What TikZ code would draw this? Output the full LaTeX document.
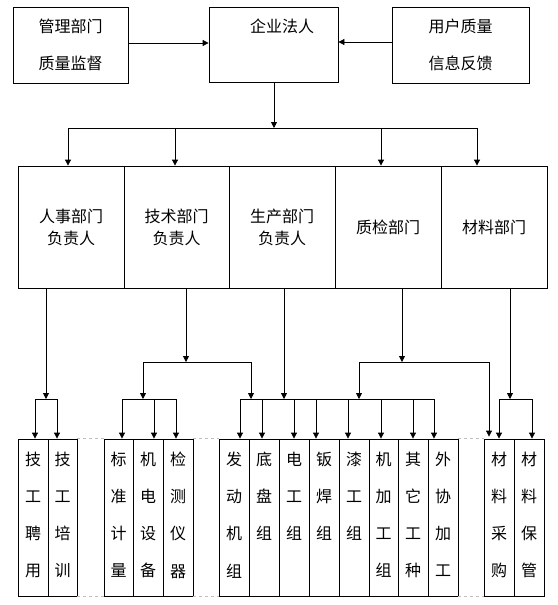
\documentclass[tikz,border=0pt]{standalone}
\usepackage{fontspec}
\newfontfamily\cjk{Noto Sans CJK SC}
\usetikzlibrary{arrows.meta}
\tikzset{
  box/.style={draw, line width=0.8pt, inner sep=0pt},
  topbox/.style={box, minimum height=76pt, align=center, font=\cjk\fontsize{16pt}{37pt}\selectfont},
  midbox/.style={box, minimum width=106pt, minimum height=122pt, align=center, font=\cjk\fontsize{16pt}{22pt}\selectfont},
  bbox/.style={box, minimum height=157pt},
  btext/.style={anchor=north, inner sep=0pt, align=center, font=\cjk\fontsize{16pt}{37.3pt}\selectfont},
  ln/.style={line width=0.8pt},
  arr/.style={line width=0.8pt, -{Triangle[length=6pt,width=6pt]}},
  dsh/.style={draw=black!25, dashed, line width=0.6pt}
}
\newcommand\bcol[4]{%
  \node[bbox, minimum width=#3pt] (#1) at (#2,517.5) {};
  \node[btext] (#1t) at ([yshift=-12.8pt]#1.north) {#4};
}
\begin{document}
\begin{tikzpicture}[x=1pt,y=-1pt]
\useasboundingbox (0,0) rectangle (557,605);
% top row
\node[topbox, minimum width=115pt] (L) at (70.5,45) {管理部门\\质量监督};
\node[box, minimum width=129pt, minimum height=75pt] (C) at (273.5,44.5) {};
\node[inner sep=0pt, font=\cjk\fontsize{16pt}{20pt}\selectfont] (Ct) at (282,26) {企业法人};
\node[topbox, minimum width=137pt] (R) at (460.5,45) {用户质量\\信息反馈};
\coordinate (yL) at (0,43);
\coordinate (yR) at (0,42);
\draw[arr] (L.east |- yL) -- (C.west |- yL);
\draw[arr] (R.west |- yR) -- (C.east |- yR);
% middle row
\node[midbox] (M1) at (71,227) {人事部门\\负责人};
\node[midbox, minimum width=105pt] (M2) at (176.5,227) {技术部门\\负责人};
\node[midbox] (M3) at (282,227) {生产部门\\负责人};
\node[midbox] (M4) at (388,227) {质检部门};
\node[midbox] (M5) at (494,227) {材料部门};
% bus from C
\coordinate (j0) at (274,128);
\coordinate (h0a) at (68,128);
\coordinate (h0b) at (477,128);
\coordinate (h0c) at (175,128);
\coordinate (h0d) at (381,128);
\draw[arr] (C.south -| j0) -- (j0);
\draw[ln] (h0a) -- (h0b);
\draw[arr] (h0a) -- (h0a |- M1.north);
\draw[arr] (h0c) -- (h0c |- M2.north);
\draw[arr] (h0d) -- (h0d |- M4.north);
\draw[arr] (h0b) -- (h0b |- M5.north);
% bottom boxes
\bcol{b1}{33}{30}{技\\工\\聘\\用}
\bcol{b2}{62.5}{29}{技\\工\\培\\训}
\bcol{b3}{118.5}{29}{标\\准\\计\\量}
\bcol{b4}{148}{30}{机\\电\\设\\备}
\bcol{b5}{178}{30}{检\\测\\仪\\器}
\bcol{b6}{234}{30}{发\\动\\机\\组}
\bcol{b7}{264}{30}{底\\盘\\组}
\bcol{b8}{294}{30}{电\\工\\组}
\bcol{b9}{324}{30}{钣\\焊\\组}
\bcol{b10}{354}{30}{漆\\工\\组}
\bcol{b11}{383.5}{29}{机\\加\\工\\组}
\bcol{b12}{413}{30}{其\\它\\工\\种}
\bcol{b13}{443}{30}{外\\协\\加\\工}
\bcol{b14}{499}{30}{材\\料\\采\\购}
\bcol{b15}{529}{30}{材\\料\\保\\管}
% dashed group links
\draw[dsh] (b2.north east) -- (b3.north west);
\draw[dsh] (b2.south east) -- (b3.south west);
\draw[dsh] (b5.north east) -- (b6.north west);
\draw[dsh] (b5.south east) -- (b6.south west);
\draw[dsh] (b13.north east) -- (b14.north west);
\draw[dsh] (b13.south east) -- (b14.south west);
% M1 branch
\coordinate (p1) at (46,399);
\coordinate (p1a) at (35,399);
\coordinate (p1b) at (57,399);
\draw[arr] (M1.south -| p1) -- (p1);
\draw[ln] (p1a) -- (p1b);
\draw[arr] (p1a) -- (p1a |- b1.north);
\draw[arr] (p1b) -- (p1b |- b2.north);
% M2 branch
\coordinate (p2) at (186,362);
\coordinate (p2a) at (143,362);
\coordinate (p2b) at (251,362);
\coordinate (q2) at (143,399);
\coordinate (q2a) at (122,399);
\coordinate (q2b) at (154,399);
\coordinate (q2c) at (176,399);
\coordinate (r2) at (251,399);
\draw[arr] (M2.south -| p2) -- (p2);
\draw[ln] (p2a) -- (p2b);
\draw[arr] (p2a) -- (q2);
\draw[arr] (p2b) -- (r2);
\draw[ln] (q2a) -- (q2c);
\draw[arr] (q2a) -- (q2a |- b3.north);
\draw[arr] (q2b) -- (q2b |- b4.north);
\draw[arr] (q2c) -- (q2c |- b5.north);
% M3 branch
\coordinate (p3) at (284,399);
\coordinate (s1) at (240,399);
\coordinate (s2) at (262,399);
\coordinate (s3) at (294,399);
\coordinate (s4) at (316,399);
\coordinate (s5) at (348,399);
\coordinate (s6) at (381,399);
\coordinate (s7) at (413,399);
\coordinate (s8) at (434,399);
\draw[arr] (M3.south -| p3) -- (p3);
\draw[ln] (s1) -- (s8);
\draw[arr] (s1) -- (s1 |- b6.north);
\draw[arr] (s2) -- (s2 |- b7.north);
\draw[arr] (s3) -- (s3 |- b8.north);
\draw[arr] (s4) -- (s4 |- b9.north);
\draw[arr] (s5) -- (s5 |- b10.north);
\draw[arr] (s6) -- (s6 |- b11.north);
\draw[arr] (s7) -- (s7 |- b12.north);
\draw[arr] (s8) -- (s8 |- b13.north);
% M4 branch
\coordinate (p4) at (402,362);
\coordinate (p4a) at (359,362);
\coordinate (p4b) at (489,362);
\coordinate (r4) at (359,399);
\draw[arr] (M4.south -| p4) -- (p4);
\draw[ln] (p4a) -- (p4b);
\draw[arr] (p4a) -- (r4);
\draw[arr] (p4b) -- ([yshift=2pt]p4b |- b14.north);
% M5 branch
\coordinate (p5) at (510,399);
\coordinate (p5a) at (499,399);
\coordinate (p5b) at (532,399);
\draw[arr] (M5.south -| p5) -- (p5);
\draw[ln] (p5a) -- (p5b);
\draw[arr] (p5a) -- (p5a |- b14.north);
\draw[arr] (p5b) -- (p5b |- b15.north);
\end{tikzpicture}
\end{document}
